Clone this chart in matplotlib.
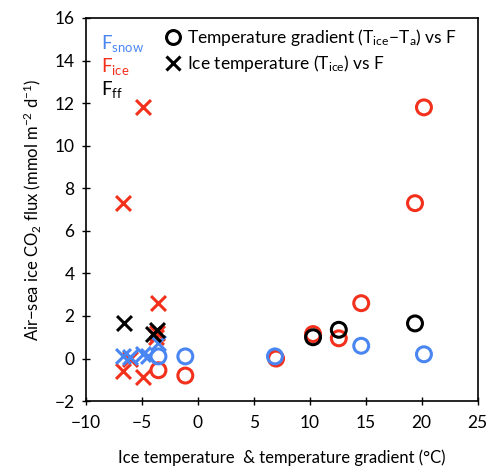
import matplotlib
matplotlib.use("Agg")
import matplotlib.pyplot as plt
from matplotlib.lines import Line2D

plt.rcParams['font.family'] = ['Lato', 'DejaVu Sans']
plt.rcParams['mathtext.fontset'] = 'custom'
plt.rcParams['mathtext.rm'] = 'Lato'
plt.rcParams['mathtext.it'] = 'Lato'

BLUE = "#4a86f2"
RED = "#f2301c"
BLACK = "#000000"

# temperature gradient (Tice - Ta) vs flux -> circles
grad_snow = [20.2, 14.6, 6.9, -1.1, -3.5]
f_snow_grad = [0.2, 0.6, 0.1, 0.1, 0.1]
grad_ice = [20.2, 19.4, 14.6, 10.3, 12.6, 7.0, -1.1, -3.5]
f_ice_grad = [11.8, 7.3, 2.6, 1.15, 0.95, 0.0, -0.8, -0.55]
grad_ff = [19.4, 12.6, 10.3]
f_ff_grad = [1.65, 1.35, 1.0]

# ice temperature (Tice) vs flux -> crosses
tice_snow = [-4.9, -3.5, -6.0, -4.4, -6.7]
f_snow_tice = [0.2, 0.75, 0.05, 0.1, 0.1]
tice_ice = [-4.9, -6.7, -3.5, -3.6, -3.7, -6.0, -4.9, -6.7]
f_ice_tice = [11.8, 7.3, 2.6, 1.2, 1.0, 0.0, -0.85, -0.6]
tice_ff = [-6.6, -3.6, -4.0]
f_ff_tice = [1.65, 1.35, 1.15]

fig = plt.figure(figsize=(4.92, 4.73), dpi=100)
ax = fig.add_axes([0.174, 0.152, 0.797, 0.810])

ms = 115
lw = 2.2
for x, y, c in [(grad_ice, f_ice_grad, RED), (grad_snow, f_snow_grad, BLUE), (grad_ff, f_ff_grad, BLACK)]:
    ax.scatter(x, y, s=ms, facecolors='none', edgecolors=c, linewidths=lw, zorder=3)
for x, y, c in [(tice_ice, f_ice_tice, RED), (tice_snow, f_snow_tice, BLUE), (tice_ff, f_ff_tice, BLACK)]:
    ax.scatter(x, y, s=ms, marker='x', color=c, linewidths=lw, zorder=3)

ax.set_xlim(-10, 25)
ax.set_ylim(-2, 16)
ax.set_xticks(range(-10, 26, 5))
ax.set_yticks(range(-2, 17, 2))
ax.tick_params(direction='inout', length=6, width=1, labelsize=12.5)
ax.tick_params(axis='x', pad=7)
ax.tick_params(axis='y', pad=5)
for s in ax.spines.values():
    s.set_linewidth(1.2)

ax.set_xlabel("Ice temperature  & temperature gradient (°C)", fontsize=12, labelpad=13)
ax.set_ylabel("Air−sea ice CO$_2$ flux (mmol m$^{-2}$ d$^{-1}$)", fontsize=12, labelpad=8)

ax.text(0.04, 0.96, "F$_{snow}$", color=BLUE, fontsize=13.5, transform=ax.transAxes, va='top')
ax.text(0.04, 0.90, "F$_{ice}$", color=RED, fontsize=13.5, transform=ax.transAxes, va='top')
ax.text(0.04, 0.84, "F$_{ff}$", color=BLACK, fontsize=13.5, transform=ax.transAxes, va='top')

handles = [
    Line2D([], [], ls='none', marker='o', ms=10, mfc='none', mec='k', mew=2.2),
    Line2D([], [], ls='none', marker='x', ms=10, color='k', mew=2.2),
]
labels = ["Temperature gradient (T$_{ice}$−T$_a$) vs F", "Ice temperature (T$_{ice}$) vs F"]
ax.legend(handles, labels, loc='upper left', bbox_to_anchor=(0.16, 1.012), frameon=False,
          fontsize=12.5, handletextpad=0.2, handlelength=1.2, labelspacing=0.25, borderaxespad=0.4)

fig.savefig("out.png", dpi=100)
